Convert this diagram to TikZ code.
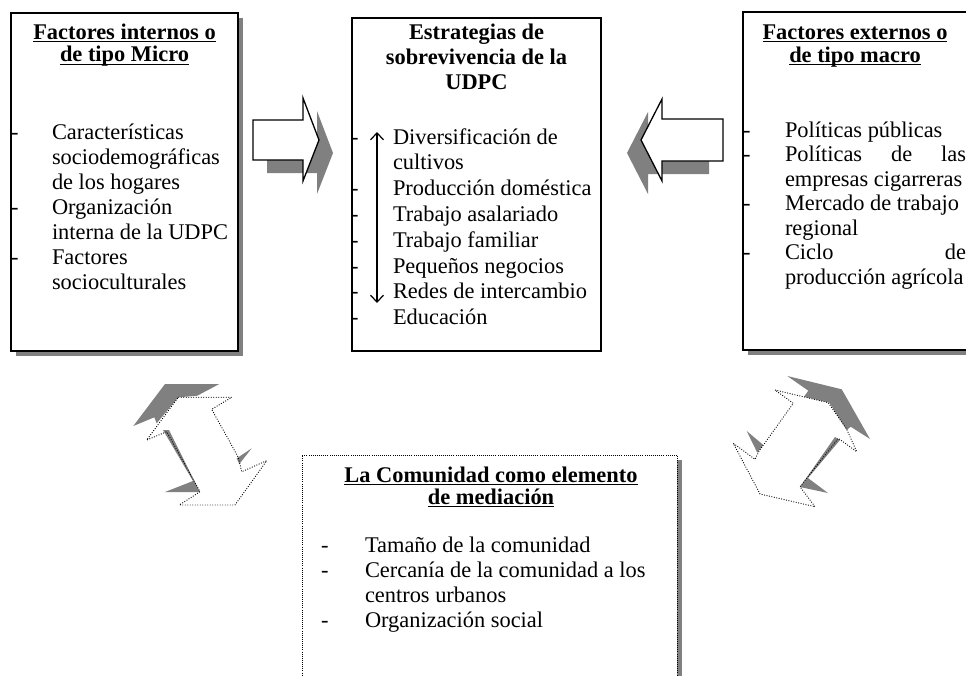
\documentclass[tikz,border=0pt]{standalone}
\usepackage{fontspec}
\setmainfont{Liberation Serif}
\usetikzlibrary{arrows.meta}
\definecolor{shadowgray}{HTML}{808080}
\newcommand{\myul}[1]{\setbox0\hbox{#1}\rlap{\rule[-3.4pt]{\wd0}{1.3pt}}\box0}
\tikzset{
  txt/.style={font=\fontsize{22.4}{25}\selectfont, inner sep=0pt, outer sep=0pt, anchor=base west},
  ttl/.style={font=\fontsize{22.4}{25}\selectfont\bfseries, inner sep=0pt, outer sep=0pt, anchor=base},
  frame/.style={draw=black, line width=1.3pt, fill=white, anchor=north west, inner sep=0pt, outer sep=0pt},
  dotframe/.style={draw=black, line width=0.7pt, dash pattern=on 0.7pt off 1.4pt, fill=white, anchor=north west, inner sep=0pt, outer sep=0pt},
  shade/.style={fill=shadowgray, draw=none},
  barrow/.style={draw=black, line width=1.3pt, fill=white, line join=miter},
  dots/.style={draw=black, line width=0.9pt, dash pattern=on 0.9pt off 1.6pt},
}
\begin{document}
\begin{tikzpicture}[x=1pt,y=-1pt]
\useasboundingbox (0,0) rectangle (966,675);
\clip (0,0) rectangle (966,675);
\fill[white] (0,0) rectangle (966,675);

% ---------- boxes ----------
\fill[shade] (16,18) rectangle (243,356);
\node[frame, minimum width=227pt, minimum height=338pt] (lbox) at (11,13) {};
\node[frame, minimum width=249pt, minimum height=333pt] (cbox) at (352,18) {};
\fill[shade] (748,17) rectangle (973,355);
\node[frame, minimum width=224pt, minimum height=338pt] (rbox) at (743,12) {};
\fill[shade] (306,460) rectangle (682,700);
\node[dotframe, minimum width=375pt, minimum height=240pt] (bbox) at (302,455) {};

% ---------- left box text ----------
\node[ttl] (lt1) at (124.5,39) {\myul{Factores internos o}};
\node[ttl] (lt2) at (124.5,61.5) {\myul{de tipo Micro}};
\node[txt] (ld1) at (11,139.5) {-};
\node[txt] (ld2) at (11,214.5) {-};
\node[txt] (ld3) at (11,264.5) {-};
\node[txt] (li1) at (52,139.5) {Características};
\node[txt] (li2) at (52,164.5) {sociodemográficas};
\node[txt] (li3) at (52,189.5) {de los hogares};
\node[txt] (li4) at (52,214.5) {Organización};
\node[txt] (li5) at (52,239.5) {interna de la UDPC};
\node[txt] (li6) at (52,264.5) {Factores};
\node[txt] (li7) at (52,289.5) {socioculturales};

% ---------- centre box text ----------
\node[ttl] (ct1) at (476.5,39) {Estrategias de};
\node[ttl] (ct2) at (476.5,64) {sobrevivencia de la};
\node[ttl] (ct3) at (476.5,89) {UDPC};
\node[txt] (cd1) at (351,144) {-};
\node[txt] (cd3) at (351,195.6) {-};
\node[txt] (cd4) at (351,221.4) {-};
\node[txt] (cd5) at (351,247.2) {-};
\node[txt] (cd6) at (351,273) {-};
\node[txt] (cd7) at (351,298.8) {-};
\node[txt] (cd8) at (351,324.6) {-};
\node[txt] (ci1) at (393,144) {Diversificación de};
\node[txt] (ci2) at (393,169.8) {cultivos};
\node[txt] (ci3) at (393,195.6) {Producción doméstica};
\node[txt] (ci4) at (393,221.4) {Trabajo asalariado};
\node[txt] (ci5) at (393,247.2) {Trabajo familiar};
\node[txt] (ci6) at (393,273) {Pequeños negocios};
\node[txt] (ci7) at (393,298.8) {Redes de intercambio};
\node[txt] (ci8) at (393,324.6) {Educación};
\coordinate (vt) at (377,132);
\coordinate (vb) at (377,303);
\draw[line width=1.2pt, {Straight Barb[length=7pt,width=13pt]}-{Straight Barb[length=7pt,width=13pt]}] (vt) -- (vb);

% ---------- right box text ----------
\node[ttl] (rt1) at (855,39) {\myul{Factores externos o}};
\node[ttl] (rt2) at (855,62) {\myul{de tipo macro}};
\node[txt] (rd1) at (743,137) {-};
\node[txt] (rd2) at (743,161.5) {-};
\node[txt] (rd4) at (743,210.5) {-};
\node[txt] (rd6) at (743,259.5) {-};
\node[txt] (ri1) at (785,137) {Políticas públicas};
\node[txt] (ri2) at (785,161.5) {\makebox[181pt][l]{Políticas\hfill de\hfill las}};
\node[txt] (ri3) at (785,186) {empresas cigarreras};
\node[txt] (ri4) at (785,210.5) {Mercado de trabajo};
\node[txt] (ri5) at (785,235) {regional};
\node[txt] (ri6) at (785,259.5) {\makebox[181pt][l]{Ciclo\hfill de}};
\node[txt] (ri7) at (785,284) {producción agrícola};

% ---------- bottom box text ----------
\node[ttl] (bt1) at (491,482) {\myul{La Comunidad como elemento}};
\node[ttl] (bt2) at (491,504) {\myul{de mediación}};
\node[txt] (bd1) at (321,552) {-};
\node[txt] (bd2) at (321,577) {-};
\node[txt] (bd4) at (321,627) {-};
\node[txt] (bi1) at (365,552) {Tamaño de la comunidad};
\node[txt] (bi2) at (365,577) {Cercanía de la comunidad a los};
\node[txt] (bi3) at (365,602) {centros urbanos};
\node[txt] (bi4) at (365,627) {Organización social};

% ---------- block arrows ----------
\begin{scope}[shift={(14,13)}]
\fill[shade] (253,120) -- (303,120) -- (303,98) -- (319,140) -- (303,181) -- (303,160) -- (253,160) -- cycle;
\end{scope}
\draw[barrow] (253,120) -- (303,120) -- (303,98) -- (319,140) -- (303,181) -- (303,160) -- (253,160) -- cycle;
\begin{scope}[shift={(-14,13)}]
\fill[shade] (723,119) -- (662,119) -- (662,99) -- (641,140) -- (662,181) -- (662,161) -- (723,161) -- cycle;
\end{scope}
\draw[barrow] (723,119) -- (662,119) -- (662,99) -- (641,140) -- (662,181) -- (662,161) -- (723,161) -- cycle;

% ---------- left 3D double arrow ----------
\fill[shade] (165,384) -- (219.3,384) -- (197.3,395.7) -- (178.3,397.3) -- (156.7,423.3) -- (154.3,417.3) -- (133.3,426) -- cycle;
\fill[shade] (163,430) -- (169,430) -- (200,492) -- (165,492) -- (193,481) -- cycle;
\fill[shade] (236.7,458.3) -- (251.7,448.3) -- (239.3,464) -- cycle;
\draw[dots] (178.3,397.3) -- (231.7,397.3) -- (211.7,409.3) -- (238.3,457.3) -- (241.7,471.7) -- (266.7,460.7) -- (235,505) -- (179.3,505) -- (200,491.7) -- (166.7,431.7) -- (146.7,440) -- cycle;

% ---------- right 3D double arrow ----------
\fill[shade] (787.3,376) -- (841.7,389.3) -- (870,439) -- (850.7,426.7) -- (846.7,430) -- (829.3,402.7) -- (804,396.7) -- (808.3,390.7) -- cycle;
\fill[shade] (746.7,431) -- (763.3,445) -- (757.3,452.7) -- cycle;
\fill[shade] (835,437) -- (840,440) -- (808,478) -- (828,493) -- (800,487) -- cycle;
\draw[dots] (775,390) -- (828.3,402.7) -- (846.7,429.3) -- (856.7,451.7) -- (838.3,438.3) -- (800,486.7) -- (815,506.7) -- (760,494) -- (733.3,443.3) -- (755,459.3) -- (759.3,450.7) -- (793.3,403.3) -- cycle;
\end{tikzpicture}
\end{document}
